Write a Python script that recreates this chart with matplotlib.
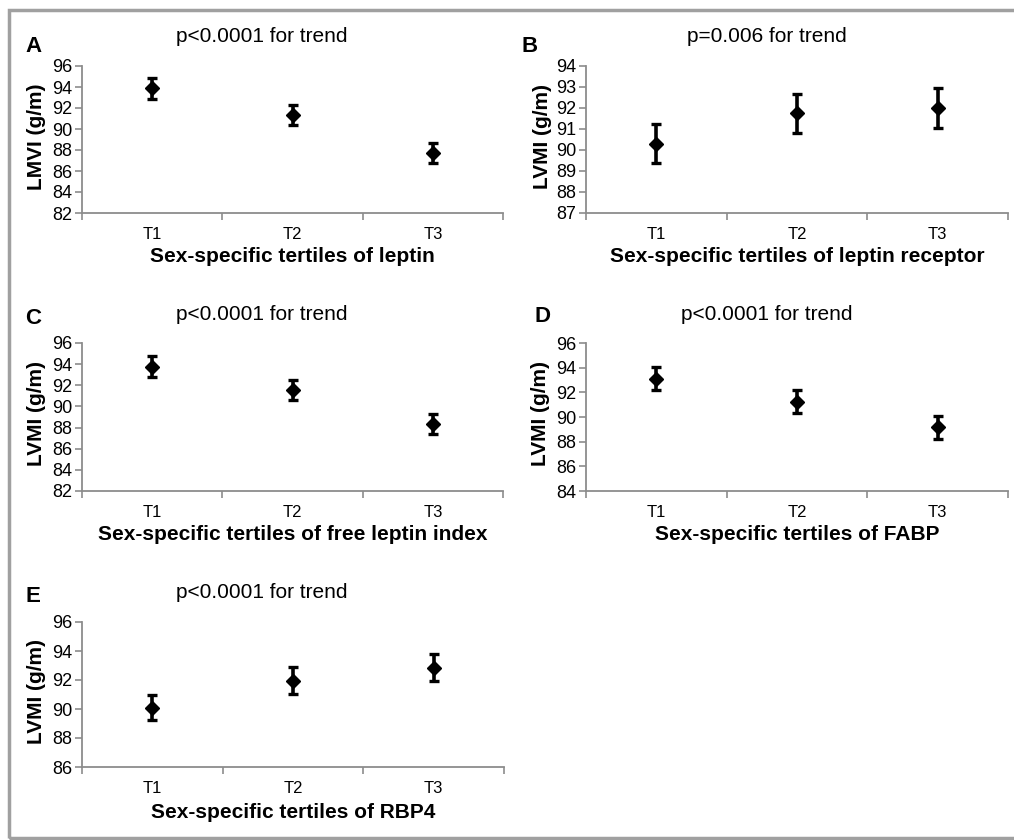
import matplotlib
matplotlib.use("Agg")
import matplotlib.pyplot as plt
from matplotlib.patches import Rectangle

plt.rcParams['font.family'] = ['Liberation Sans', 'DejaVu Sans']

categories = ["T1", "T2", "T3"]

a_means = [93.9, 91.3, 87.7]
a_err = [1.0, 0.95, 0.95]
b_means = [90.3, 91.75, 92.0]
b_err = [0.92, 0.93, 0.95]
c_means = [93.75, 91.55, 88.35]
c_err = [1.0, 0.95, 0.95]
d_means = [93.1, 91.25, 89.15]
d_err = [0.95, 0.95, 0.95]
e_means = [90.1, 91.95, 92.85]
e_err = [0.87, 0.92, 0.93]

panel_letters = ["A", "B", "C", "D", "E"]
titles = ["p<0.0001 for trend", "p=0.006 for trend", "p<0.0001 for trend",
          "p<0.0001 for trend", "p<0.0001 for trend"]
ylabels = ["LMVI (g/m)", "LVMI (g/m)", "LVMI (g/m)", "LVMI (g/m)", "LVMI (g/m)"]
xlabels = ["Sex-specific tertiles of leptin",
           "Sex-specific tertiles of leptin receptor",
           "Sex-specific tertiles of free leptin index",
           "Sex-specific tertiles of FABP",
           "Sex-specific tertiles of RBP4"]
ylims = [(82, 96), (87, 94), (82, 96), (84, 96), (86, 96)]
ysteps = [2, 1, 2, 2, 2]
means = [a_means, b_means, c_means, d_means, e_means]
errs = [a_err, b_err, c_err, d_err, e_err]

W, H = 1014, 840
fig = plt.figure(figsize=(W / 100, H / 100), dpi=100)

# outer frame
fig.patches.append(Rectangle((9 / W, 2 / H), 1.2, (H - 10 - 2) / H,
                             transform=fig.transFigure, fill=False,
                             edgecolor="#a0a0a0", linewidth=2.5))

# axes boxes in pixel coords: left, right, top, bottom
boxes = [(82, 503, 66, 213), (586, 1008, 66, 213),
         (82, 503, 343, 491), (586, 1008, 343, 491),
         (82, 504, 622, 767)]
letter_pos = [(33, 47), (530, 47), (33, 318), (543, 317), (33, 597)]
title_pos = [(262, 37), (767, 37), (262, 315), (767, 314), (262, 593)]
ylabel_x = [37, 542, 37, 541, 37]
xlabel_y = [257, 257, 535, 535, 812]

gray = "#8c8c8c"
for i in range(5):
    l, r, t, b = boxes[i]
    ax = fig.add_axes([l / W, 1 - b / H, (r - l) / W, (b - t) / H])
    x = list(range(1, len(categories) + 1))
    ax.errorbar(x, means[i], yerr=errs[i], fmt="D", color="black",
                markersize=7, elinewidth=2.6, capsize=3.5, capthick=2.4)
    ax.set_xlim(0.5, 3.5)
    lo, hi = ylims[i]
    ax.set_ylim(lo, hi)
    ax.set_yticks(list(range(lo, hi + 1, ysteps[i])))
    ax.set_xticks(x)
    ax.set_xticklabels(categories, fontsize=12)
    ax.set_xticks([0.5, 1.5, 2.5, 3.5], minor=True)
    ax.tick_params(axis="x", which="major", length=0, pad=10)
    ax.tick_params(axis="x", which="minor", length=5, color=gray, width=1.2)
    ax.tick_params(axis="y", length=5, color=gray, width=1.2, labelsize=13, pad=2)
    for s in ["top", "right"]:
        ax.spines[s].set_visible(False)
    for s in ["left", "bottom"]:
        ax.spines[s].set_color(gray)
        ax.spines[s].set_linewidth(1.3)
    ax.patch.set_alpha(0)

    cx = (l + r) / 2
    fig.text(letter_pos[i][0] / W, 1 - letter_pos[i][1] / H, panel_letters[i],
             fontsize=16, fontweight="bold", ha="center", va="center")
    fig.text(title_pos[i][0] / W, 1 - title_pos[i][1] / H, titles[i],
             fontsize=15, ha="center", va="center")
    fig.text(ylabel_x[i] / W, 1 - ((t + b) / 2 - 3) / H, ylabels[i],
             fontsize=15, fontweight="bold", ha="center", va="center",
             rotation=90)
    fig.text(cx / W, 1 - xlabel_y[i] / H, xlabels[i],
             fontsize=15, fontweight="bold", ha="center", va="center")

fig.savefig("out.png", dpi=100)
